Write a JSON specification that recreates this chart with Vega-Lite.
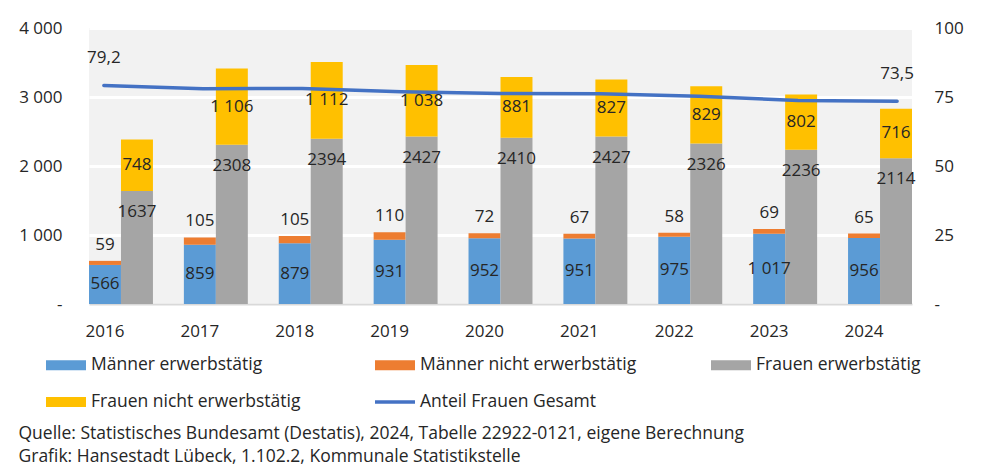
{
  "$schema": "https://vega.github.io/schema/vega-lite/v6.json",
  "width": 823,
  "height": 276,
  "autosize": "none",
  "padding": {"left": 89, "top": 28, "right": 70, "bottom": 166},
  "background": "white",
  "config": {
    "font": "Open Sans",
    "locale": {"number": {"decimal": ",", "thousands": " ", "grouping": [3], "currency": ["", " €"]}},
    "view": {"fill": "#f2f2f2", "stroke": null},
    "axis": {"labelFont": "Open Sans", "labelFontSize": 17, "labelColor": "#262626", "ticks": false, "domain": false}
  },
  "datasets": {
    "bars": [
      {"year": "2016", "sex": "M", "cat": "Männer erwerbstätig", "value": 566},
      {"year": "2016", "sex": "M", "cat": "Männer nicht erwerbstätig", "value": 59},
      {"year": "2016", "sex": "F", "cat": "Frauen erwerbstätig", "value": 1637},
      {"year": "2016", "sex": "F", "cat": "Frauen nicht erwerbstätig", "value": 748},
      {"year": "2017", "sex": "M", "cat": "Männer erwerbstätig", "value": 859},
      {"year": "2017", "sex": "M", "cat": "Männer nicht erwerbstätig", "value": 105},
      {"year": "2017", "sex": "F", "cat": "Frauen erwerbstätig", "value": 2308},
      {"year": "2017", "sex": "F", "cat": "Frauen nicht erwerbstätig", "value": 1106},
      {"year": "2018", "sex": "M", "cat": "Männer erwerbstätig", "value": 879},
      {"year": "2018", "sex": "M", "cat": "Männer nicht erwerbstätig", "value": 105},
      {"year": "2018", "sex": "F", "cat": "Frauen erwerbstätig", "value": 2394},
      {"year": "2018", "sex": "F", "cat": "Frauen nicht erwerbstätig", "value": 1112},
      {"year": "2019", "sex": "M", "cat": "Männer erwerbstätig", "value": 931},
      {"year": "2019", "sex": "M", "cat": "Männer nicht erwerbstätig", "value": 110},
      {"year": "2019", "sex": "F", "cat": "Frauen erwerbstätig", "value": 2427},
      {"year": "2019", "sex": "F", "cat": "Frauen nicht erwerbstätig", "value": 1038},
      {"year": "2020", "sex": "M", "cat": "Männer erwerbstätig", "value": 952},
      {"year": "2020", "sex": "M", "cat": "Männer nicht erwerbstätig", "value": 72},
      {"year": "2020", "sex": "F", "cat": "Frauen erwerbstätig", "value": 2410},
      {"year": "2020", "sex": "F", "cat": "Frauen nicht erwerbstätig", "value": 881},
      {"year": "2021", "sex": "M", "cat": "Männer erwerbstätig", "value": 951},
      {"year": "2021", "sex": "M", "cat": "Männer nicht erwerbstätig", "value": 67},
      {"year": "2021", "sex": "F", "cat": "Frauen erwerbstätig", "value": 2427},
      {"year": "2021", "sex": "F", "cat": "Frauen nicht erwerbstätig", "value": 827},
      {"year": "2022", "sex": "M", "cat": "Männer erwerbstätig", "value": 975},
      {"year": "2022", "sex": "M", "cat": "Männer nicht erwerbstätig", "value": 58},
      {"year": "2022", "sex": "F", "cat": "Frauen erwerbstätig", "value": 2326},
      {"year": "2022", "sex": "F", "cat": "Frauen nicht erwerbstätig", "value": 829},
      {"year": "2023", "sex": "M", "cat": "Männer erwerbstätig", "value": 1017},
      {"year": "2023", "sex": "M", "cat": "Männer nicht erwerbstätig", "value": 69},
      {"year": "2023", "sex": "F", "cat": "Frauen erwerbstätig", "value": 2236},
      {"year": "2023", "sex": "F", "cat": "Frauen nicht erwerbstätig", "value": 802},
      {"year": "2024", "sex": "M", "cat": "Männer erwerbstätig", "value": 956},
      {"year": "2024", "sex": "M", "cat": "Männer nicht erwerbstätig", "value": 65},
      {"year": "2024", "sex": "F", "cat": "Frauen erwerbstätig", "value": 2114},
      {"year": "2024", "sex": "F", "cat": "Frauen nicht erwerbstätig", "value": 716}
    ],
    "share": [
      {"year": "2016", "pct": 79.2},
      {"year": "2017", "pct": 78.0},
      {"year": "2018", "pct": 78.1},
      {"year": "2019", "pct": 76.9},
      {"year": "2020", "pct": 76.3},
      {"year": "2021", "pct": 76.2},
      {"year": "2022", "pct": 75.3},
      {"year": "2023", "pct": 73.7},
      {"year": "2024", "pct": 73.5}
    ]
  },
  "layer": [
    {
      "data": {"name": "bars"},
      "encoding": {
        "x": {
          "field": "year", "type": "nominal",
          "scale": {"paddingInner": 0.326, "paddingOuter": 0},
          "axis": {
            "labelAngle": 0, "labelPadding": 19, "labelOffset": -16, "domain": true, "domainColor": "#d9d9d9", "domainWidth": 2,
            "title": ["Quelle: Statistisches Bundesamt (Destatis), 2024, Tabelle 22922-0121, eigene Berechnung", "Grafik: Hansestadt Lübeck, 1.102.2, Kommunale Statistikstelle"],
            "titleX": -71, "titleY": 120, "titleAlign": "left", "titleAnchor": "start", "titleBaseline": "top",
            "titleFontWeight": "normal", "titleFontSize": 17.5, "titleColor": "#262626", "titleLineHeight": 23, "titleFont": "Open Sans"
          }
        },
        "xOffset": {"field": "sex", "type": "nominal", "scale": {"domain": ["M", "F"], "paddingInner": 0, "paddingOuter": 0}},
        "y": {
          "field": "value", "type": "quantitative", "stack": "zero",
          "scale": {"domain": [0, 4000], "nice": false},
          "axis": {
            "title": null, "grid": true, "gridColor": "white", "gridWidth": 3,
            "values": [0, 1000, 2000, 3000, 4000], "format": ",d",
            "labelExpr": "datum.value === 0 ? '-' : datum.label", "labelPadding": 27
          }
        },
        "order": {"field": "cat", "sort": "ascending"},
        "detail": {"field": "cat"}
      },
      "layer": [
        {
          "mark": {"type": "bar"},
          "encoding": {
            "color": {
              "field": "cat", "type": "nominal",
              "scale": {
                "domain": ["Männer erwerbstätig", "Männer nicht erwerbstätig", "Frauen erwerbstätig", "Frauen nicht erwerbstätig", "Anteil Frauen Gesamt"],
                "range": ["#5B9BD5", "#ED7D31", "#A5A5A5", "#FFC000", "#4472C4"]
              },
              "legend": {
                "title": null, "orient": "none", "legendX": -43, "legendY": 317, "direction": "horizontal",
                "columns": 3, "columnPadding": 74, "rowPadding": 8, "gridAlign": "each",
                "labelFontSize": 17.5, "labelFont": "Open Sans", "labelColor": "#262626", "labelOffset": 5, "labelLimit": 400,
                "symbolSize": 1600,
                "encode": {
                  "symbols": {
                    "update": {
                      "shape": {"signal": "datum.label === 'Anteil Frauen Gesamt' ? 'M-1,-0.09H1V0.09H-1Z' : 'M-1,-0.25H1V0.25H-1Z'"},
                      "fill": {"scale": "color", "field": "value"},
                      "stroke": {"value": "transparent"},
                      "strokeWidth": {"value": 0},
                      "opacity": {"value": 1},
                      "size": {"value": 1600}
                    }
                  }
                }
              }
            }
          }
        },
        {
          "mark": {"type": "text", "fontSize": 17, "color": "#262626", "baseline": "middle"},
          "encoding": {
            "y": {"field": "value", "type": "quantitative", "stack": "zero", "bandPosition": 0.5},
            "text": {"condition": {"test": "datum.cat === 'Männer erwerbstätig'", "field": "value", "type": "quantitative", "format": ",d"}, "value": ""}
          }
        },
        {
          "mark": {"type": "text", "fontSize": 17, "color": "#262626", "baseline": "middle", "dy": -16},
          "encoding": {
            "text": {"condition": {"test": "datum.cat === 'Männer nicht erwerbstätig'", "field": "value", "type": "quantitative", "format": ",d"}, "value": ""}
          }
        },
        {
          "mark": {"type": "text", "fontSize": 17, "color": "#262626", "baseline": "middle", "dy": 21},
          "encoding": {
            "text": {"condition": {"test": "datum.cat === 'Frauen erwerbstätig'", "field": "value", "type": "quantitative", "format": "d"}, "value": ""}
          }
        },
        {
          "mark": {"type": "text", "fontSize": 17, "color": "#262626", "baseline": "middle"},
          "encoding": {
            "y": {"field": "value", "type": "quantitative", "stack": "zero", "bandPosition": 0.5},
            "text": {"condition": {"test": "datum.cat === 'Frauen nicht erwerbstätig'", "field": "value", "type": "quantitative", "format": ",d"}, "value": ""}
          }
        }
      ]
    },
    {
      "data": {"name": "share"},
      "encoding": {
        "x": {"field": "year", "type": "ordinal", "scale": {"type": "point", "padding": 0.15}, "axis": null},
        "y": {
          "field": "pct", "type": "quantitative",
          "scale": {"domain": [0, 100], "nice": false},
          "axis": {
            "orient": "right", "title": null, "grid": false, "values": [0, 25, 50, 75, 100],
            "labelExpr": "datum.value === 0 ? '-' : datum.label", "labelPadding": 22
          }
        }
      },
      "layer": [
        {
          "mark": {"type": "line", "strokeWidth": 3.5, "strokeCap": "round"},
          "encoding": {"color": {"datum": "Anteil Frauen Gesamt", "type": "nominal"}}
        },
        {
          "transform": [{"filter": "datum.year === '2016' || datum.year === '2024'"}],
          "mark": {"type": "text", "fontSize": 17, "color": "#262626", "baseline": "middle", "dy": -27},
          "encoding": {"text": {"field": "pct", "type": "quantitative", "format": ".1f"}}
        }
      ]
    }
  ],
  "resolve": {"scale": {"x": "independent", "y": "independent"}}
}
